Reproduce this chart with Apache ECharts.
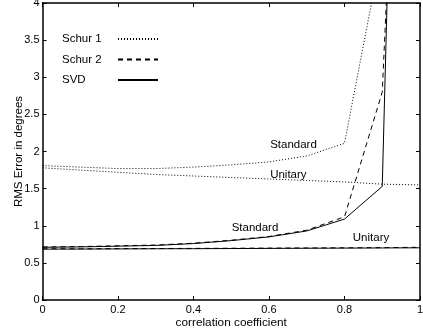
<!DOCTYPE html>
<html>
<head>
<meta charset="utf-8">
<script src="https://cdn.jsdelivr.net/npm/echarts@6/dist/echarts.min.js"></script>
<style>
  html, body { margin: 0; padding: 0; background: #fff; }
  #chart { width: 423px; height: 335px; }
</style>
</head>
<body>
<div id="chart"></div>
<script>
// correlation coefficient values
const xs = [0, 0.1, 0.2, 0.3, 0.4, 0.5, 0.6, 0.7, 0.8, 0.9, 1.0];

// RMS error (degrees); values above 4 run off the top of the plot
const schur1Standard = [1.81, 1.79, 1.77, 1.77, 1.79, 1.82, 1.86, 1.94, 2.11, 4.75];
const schur1Unitary = [1.78, 1.75, 1.72, 1.69, 1.67, 1.65, 1.63, 1.61, 1.59, 1.56, 1.55];
const schur2Standard = [0.715, 0.72, 0.73, 0.74, 0.765, 0.805, 0.855, 0.94, 1.12, 2.8, 14];
const schur2Unitary = [0.69, 0.69, 0.692, 0.693, 0.695, 0.697, 0.699, 0.701, 0.703, 0.705, 0.71];
const svdStandard = [0.71, 0.715, 0.725, 0.735, 0.76, 0.8, 0.85, 0.93, 1.09, 1.53, 21];
const svdUnitary = [0.685, 0.686, 0.688, 0.69, 0.691, 0.693, 0.695, 0.697, 0.699, 0.701, 0.703];

const legendNames = ["Schur 1", "Schur 2", "SVD"];

// curve annotations: [text, x, y] in data coordinates
const notes = [
  ["Standard", 0.603, 2.09],
  ["Unitary", 0.603, 1.68],
  ["Standard", 0.501, 0.976],
  ["Unitary", 0.822, 0.835]
];

const font = "Liberation Sans";

function pairs(vals) {
  return vals.map((v, i) => [xs[i], v]);
}

function line(name, vals, type) {
  return {
    name: name,
    type: "line",
    data: pairs(vals),
    symbol: "none",
    silent: true,
    animation: false,
    clip: true,
    lineStyle: { color: "#000", width: 1, type: type },
    itemStyle: { color: "#000" }
  };
}

const dotted = [1, 2];
const dashed = [5, 4];

const chart = echarts.init(document.getElementById("chart"));

const axisCommon = {
  type: "value",
  axisLine: { show: true, onZero: false, lineStyle: { color: "#000", width: 1.5 } },
  axisTick: { show: true, inside: true, length: 4, lineStyle: { color: "#000" } },
  splitLine: { show: false }
};

chart.setOption({
  animation: false,
  grid: { left: 42.5, right: 3, top: 3, bottom: 35, outerBoundsMode: "none" },
  legend: {
    data: legendNames,
    orient: "vertical",
    left: 62,
    top: 33,
    padding: 0,
    align: "right",
    itemWidth: 40,
    itemHeight: 14,
    itemGap: 8.5,
    selectedMode: false,
    itemStyle: { color: "rgba(0,0,0,0)", borderWidth: 0 },
    formatter: "{t|{name}}",
    textStyle: {
      fontFamily: font, fontSize: 11.5, color: "#000",
      rich: { t: { width: 51, align: "left", fontFamily: font, fontSize: 11.5, color: "#000" } }
    }
  },
  xAxis: [
    Object.assign({}, axisCommon, {
      min: 0, max: 1, interval: 0.2,
      name: "correlation coefficient",
      nameLocation: "middle",
      nameGap: 17,
      nameMoveOverlap: false,
      nameTextStyle: { fontFamily: font, fontSize: 11.8, color: "#000" },
      axisLabel: { fontFamily: font, fontSize: 11, color: "#000", margin: 4 }
    }),
    Object.assign({}, axisCommon, {
      min: 0, max: 1, interval: 0.2, position: "top",
      axisLabel: { show: false }
    })
  ],
  yAxis: [
    Object.assign({}, axisCommon, {
      min: 0, max: 4, interval: 0.5,
      name: "RMS Error in degrees",
      nameLocation: "middle",
      nameGap: 18,
      nameMoveOverlap: false,
      nameTextStyle: { fontFamily: font, fontSize: 11.5, color: "#000" },
      axisLabel: { fontFamily: font, fontSize: 11, color: "#000", margin: 3 }
    }),
    Object.assign({}, axisCommon, {
      min: 0, max: 4, interval: 0.5, position: "right",
      axisLabel: { show: false }
    })
  ],
  series: [
    line("Schur 1", schur1Standard, dotted),
    line("Schur 1", schur1Unitary, dotted),
    line("Schur 2", schur2Standard, dashed),
    line("Schur 2", schur2Unitary, dashed),
    line("SVD", svdStandard, "solid"),
    line("SVD", svdUnitary, "solid")
  ]
});

// place the curve annotations through the axes
chart.setOption({
  graphic: notes.map(n => {
    const p = chart.convertToPixel({ gridIndex: 0 }, [n[1], n[2]]);
    return {
      type: "text",
      x: p[0],
      y: p[1],
      style: {
        text: n[0],
        fontFamily: font,
        fontSize: 11.5,
        fill: "#000",
        verticalAlign: "middle",
        align: "left"
      }
    };
  })
});
</script>
</body>
</html>
